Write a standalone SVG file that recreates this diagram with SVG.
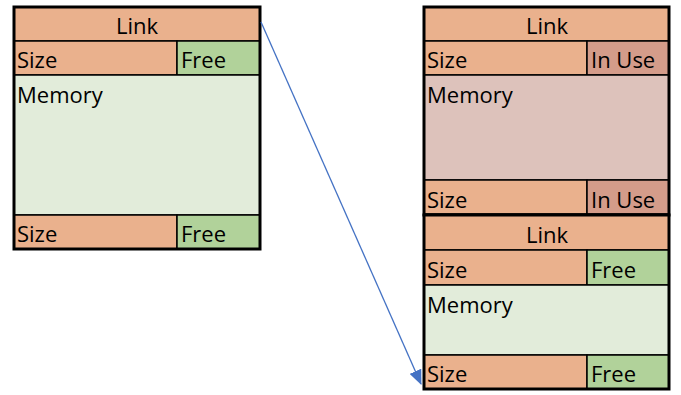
<svg xmlns="http://www.w3.org/2000/svg" width="681" height="395" viewBox="0 0 681 395">
<style>
text{font-family:"Open Sans","Liberation Sans",sans-serif;font-size:22px;fill:#000}
.o{fill:#EAB18D;stroke:#000;stroke-width:1.5}
.g{fill:#B1D29A;stroke:#000;stroke-width:1.5}
.lg{fill:#E2ECDA;stroke:#000;stroke-width:1.5}
.u{fill:#D49C8A;stroke:#000;stroke-width:1.5}
.lu{fill:#DDC2BB;stroke:#000;stroke-width:1.5}
.frame{fill:none;stroke:#000;stroke-width:3}
.c{text-anchor:middle}
</style>
<defs>
<marker id="ah" viewBox="0 0 14 12" refX="13" refY="6" markerWidth="15" markerHeight="13" orient="auto" markerUnits="userSpaceOnUse">
<path d="M0,0 L14,6 L0,12 z" fill="#4472C4"/>
</marker>
</defs>
<g id="block-left">
<rect class="o" x="14" y="7" width="246" height="34"/>
<rect class="o" x="14" y="41" width="163" height="34"/>
<rect class="g" x="177" y="41" width="83" height="34"/>
<rect class="lg" x="14" y="75" width="246" height="140"/>
<rect class="o" x="14" y="215" width="163" height="34"/>
<rect class="g" x="177" y="215" width="83" height="34"/>
<rect class="frame" x="14" y="7" width="246" height="242"/>
<text class="c" x="137" y="34">Link</text>
<text x="17" y="68">Size</text>
<text x="181" y="68">Free</text>
<text x="17" y="103">Memory</text>
<text x="17" y="242">Size</text>
<text x="181" y="242">Free</text>
</g>
<g id="block-right-used">
<rect class="o" x="424" y="7" width="245" height="34"/>
<rect class="o" x="424" y="41" width="163" height="34"/>
<rect class="u" x="587" y="41" width="82" height="34"/>
<rect class="lu" x="424" y="75" width="245" height="105"/>
<rect class="o" x="424" y="180" width="163" height="34"/>
<rect class="u" x="587" y="180" width="82" height="34"/>
<rect class="frame" x="424" y="7" width="245" height="208"/>
<text class="c" x="547" y="34">Link</text>
<text x="427" y="68">Size</text>
<text x="591" y="68">In Use</text>
<text x="427" y="103">Memory</text>
<text x="427" y="208">Size</text>
<text x="591" y="208">In Use</text>
</g>
<g id="block-right-free">
<rect class="o" x="424" y="215" width="245" height="35"/>
<rect class="o" x="424" y="250" width="163" height="35"/>
<rect class="g" x="587" y="250" width="82" height="35"/>
<rect class="lg" x="424" y="285" width="245" height="70"/>
<rect class="o" x="424" y="355" width="163" height="34"/>
<rect class="g" x="587" y="355" width="82" height="34"/>
<rect class="frame" x="424" y="215" width="245" height="174"/>
<text class="c" x="547" y="243">Link</text>
<text x="427" y="278">Size</text>
<text x="591" y="278">Free</text>
<text x="427" y="313">Memory</text>
<text x="427" y="382">Size</text>
<text x="591" y="382">Free</text>
</g>
<g id="connectors">
<line x1="261" y1="22" x2="421" y2="384" stroke="#4472C4" stroke-width="1.3" marker-end="url(#ah)"/>
</g>
</svg>
